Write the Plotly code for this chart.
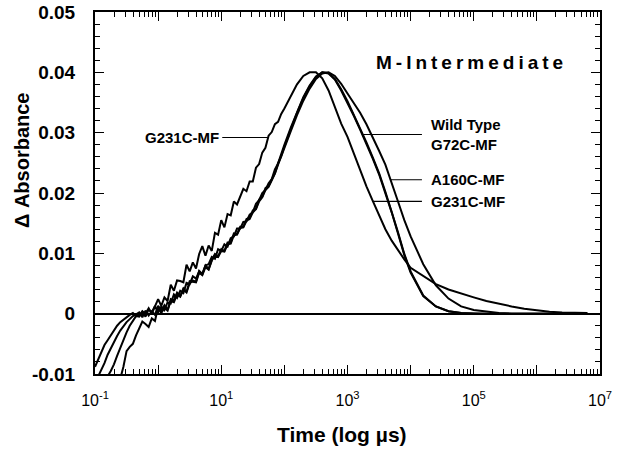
import math
import plotly.graph_objects as go

# time axis (log10 of time in microseconds)
LOG_T = [-1.00, -0.95, -0.90, -0.85, -0.80, -0.75, -0.70, -0.65, -0.60, -0.55,
         -0.50, -0.45, -0.40, -0.35, -0.30, -0.25, -0.20, -0.15, -0.10, -0.05,
         0.00, 0.05, 0.10, 0.15, 0.20, 0.25, 0.30, 0.35, 0.40, 0.45,
         0.50, 0.55, 0.60, 0.65, 0.70, 0.75, 0.80, 0.85, 0.90, 0.95,
         1.00, 1.05, 1.10, 1.15, 1.20, 1.25, 1.30, 1.35, 1.40, 1.45,
         1.50, 1.55, 1.60, 1.65, 1.70, 1.75, 1.80, 1.85, 1.90, 1.95,
         2.00, 2.1, 2.2, 2.3, 2.4, 2.5, 2.6, 2.7, 2.8, 2.9,
         3.0, 3.1, 3.2, 3.3, 3.4, 3.5, 3.6, 3.7, 3.8, 3.9,
         4.0, 4.2, 4.4, 4.6, 4.8, 5.0, 5.2, 5.4, 5.6, 5.8,
         6.0, 6.2, 6.4, 6.6, 6.8]
TIME_US = [10 ** e for e in LOG_T]

WILD_TYPE = [-0.0115, -0.0104, -0.0094, -0.0082, -0.0068, -0.0057, -0.0046, -0.0037, -0.0028, -0.0020,
             -0.0014, -0.0009, -0.0004, -0.0001, 0.0002, -0.0006, 0.0005, -0.0003, 0.0004, -0.0002,
             0.0013, 0.0005, 0.0014, 0.0006, 0.0024, 0.0022, 0.0035, 0.0029, 0.0042, 0.0036,
             0.0054, 0.0055, 0.0053, 0.0071, 0.0066, 0.0080, 0.0074, 0.0089, 0.0099, 0.0095,
             0.0107, 0.0104, 0.0118, 0.0118, 0.0133, 0.0132, 0.0144, 0.0144, 0.0157, 0.0159,
             0.0171, 0.0174, 0.0189, 0.0194, 0.0208, 0.0212, 0.0224, 0.0233, 0.0249, 0.0261,
             0.0277, 0.0305, 0.0333, 0.0357, 0.0377, 0.0392, 0.0400, 0.0398, 0.0388, 0.0370,
             0.0350, 0.0328, 0.0305, 0.0282, 0.0257, 0.0231, 0.0200, 0.0168, 0.0133, 0.0097,
             0.0068, 0.0029, 0.0012, 0.0004, 0.0001, 0.0000, 0.0000, 0.0000, 0.0000, 0.0000,
             0.0000, 0.0000, 0.0000, 0.0000, 0.0000]

G72C_MF = [-0.0150, -0.0138, -0.0126, -0.0114, -0.0104, -0.0095, -0.0084, -0.0070, -0.0056, -0.0043,
           -0.0031, -0.0020, -0.0011, -0.0004, -0.0005, 0.0003, -0.0005, 0.0007, 0.0002, 0.0013,
           0.0002, 0.0012, 0.0006, 0.0019, 0.0017, 0.0032, 0.0026, 0.0038, 0.0034, 0.0051,
           0.0049, 0.0062, 0.0058, 0.0070, 0.0065, 0.0080, 0.0082, 0.0094, 0.0091, 0.0107,
           0.0104, 0.0115, 0.0111, 0.0125, 0.0128, 0.0141, 0.0141, 0.0152, 0.0153, 0.0164,
           0.0168, 0.0182, 0.0188, 0.0200, 0.0205, 0.0216, 0.0223, 0.0239, 0.0249, 0.0265,
           0.0280, 0.0308, 0.0335, 0.0359, 0.0378, 0.0393, 0.0400, 0.0399, 0.0389, 0.0372,
           0.0352, 0.0330, 0.0307, 0.0284, 0.0259, 0.0233, 0.0202, 0.0170, 0.0135, 0.0099,
           0.0070, 0.0030, 0.0012, 0.0004, 0.0001, 0.0000, 0.0000, 0.0000, 0.0000, 0.0000,
           0.0000, 0.0000, 0.0000, 0.0000, 0.0000]

A160C_MF = [-0.0210, -0.0200, -0.0190, -0.0178, -0.0165, -0.0150, -0.0135, -0.0120, -0.0108, -0.0088,
            -0.0062, -0.0055, -0.0050, -0.0036, -0.0024, -0.0013, -0.0017, -0.0022, -0.0008, -0.0012,
            0.0011, 0.0001, 0.0010, 0.0005, 0.0021, 0.0019, 0.0032, 0.0028, 0.0040, 0.0035,
            0.0051, 0.0053, 0.0052, 0.0068, 0.0064, 0.0077, 0.0073, 0.0088, 0.0096, 0.0094,
            0.0104, 0.0103, 0.0115, 0.0116, 0.0130, 0.0131, 0.0142, 0.0143, 0.0154, 0.0157,
            0.0168, 0.0173, 0.0186, 0.0193, 0.0205, 0.0210, 0.0221, 0.0232, 0.0247, 0.0260,
            0.0275, 0.0302, 0.0329, 0.0353, 0.0373, 0.0389, 0.0398, 0.0400, 0.0394, 0.0381,
            0.0365, 0.0350, 0.0333, 0.0314, 0.0293, 0.0270, 0.0247, 0.0218, 0.0186, 0.0155,
            0.0128, 0.0082, 0.0047, 0.0025, 0.0012, 0.0006, 0.0003, 0.0001, 0.0000, 0.0000,
            0.0000, 0.0000, 0.0000, 0.0000, 0.0000]

G231C_MF = [-0.0088, -0.0075, -0.0063, -0.0052, -0.0044, -0.0036, -0.0027, -0.0020, -0.0014, -0.0010,
            -0.0005, -0.0002, 0.0001, -0.0004, -0.0003, 0.0004, 0.0000, 0.0009, 0.0000, 0.0011,
            0.0024, 0.0013, 0.0027, 0.0021, 0.0048, 0.0038, 0.0055, 0.0054, 0.0052, 0.0081,
            0.0070, 0.0085, 0.0075, 0.0099, 0.0112, 0.0096, 0.0113, 0.0104, 0.0134, 0.0131,
            0.0155, 0.0143, 0.0165, 0.0163, 0.0186, 0.0181, 0.0195, 0.0207, 0.0203, 0.0219,
            0.0219, 0.0242, 0.0248, 0.0267, 0.0275, 0.0295, 0.0301, 0.0314, 0.0318, 0.0331,
            0.0340, 0.0360, 0.0380, 0.0394, 0.0400, 0.0400, 0.0390, 0.0370, 0.0343, 0.0315,
            0.0293, 0.0265, 0.0237, 0.0211, 0.0187, 0.0163, 0.0140, 0.0121, 0.0105, 0.0090,
            0.0076, 0.0062, 0.0049, 0.0040, 0.0033, 0.0027, 0.0021, 0.0016, 0.0012, 0.0008,
            0.0005, 0.0003, 0.0002, 0.0001, 0.0001]

SERIES = {"Wild Type": WILD_TYPE, "G72C-MF": G72C_MF, "A160C-MF": A160C_MF, "G231C-MF": G231C_MF}

# tick labels
X_TICKVALS = [0.1, 1, 10, 100, 1e3, 1e4, 1e5, 1e6, 1e7]
X_TICKTEXT = ["10<sup>-1</sup>", "", "10<sup>1</sup>", "", "10<sup>3</sup>", "",
              "10<sup>5</sup>", "", "10<sup>7</sup>"]
Y_TICKVALS = [-0.01, 0, 0.01, 0.02, 0.03, 0.04, 0.05]
Y_TICKTEXT = ["-0.01", "0", "0.01", "0.02", "0.03", "0.04", "0.05"]

# label anchor points on the curves (time in us, absorbance)
RIGHT_LABELS = [
    ("Wild Type<br>G72C-MF", 1780, 0.0297),
    ("A160C-MF", 4700, 0.0222),
    ("G231C-MF", 2500, 0.0186),
]
LEFT_LABEL = ("G231C-MF", 55, 0.0292)
TITLE_TEXT = "M-Intermediate"
X_TITLE = "Time (log µs)"
Y_TITLE = "Δ Absorbance"

FONT = "Liberation Sans, Arial, Helvetica, sans-serif"
TEXT_X_LOG = 4.29   # left edge column of the right-hand labels (log10 us)
LEFT_TEXT_X_LOG = 1.0

fig = go.Figure()
for name, vals in SERIES.items():
    fig.add_trace(go.Scatter(x=TIME_US, y=vals, mode="lines", name=name,
                             line=dict(color="black", width=2), showlegend=False))

lab_font = dict(family=FONT, size=15, color="black", weight="bold")
for text, t, v in RIGHT_LABELS:
    fig.add_annotation(x=math.log10(t), y=v, xref="x", yref="y",
                       axref="x", ayref="y", ax=TEXT_X_LOG, ay=v,
                       text=text, align="left", showarrow=True, arrowhead=0,
                       arrowwidth=1.2, arrowcolor="black", standoff=0, startstandoff=7,
                       xanchor="left", yanchor="middle", font=lab_font)
fig.add_annotation(x=math.log10(LEFT_LABEL[1]), y=LEFT_LABEL[2], xref="x", yref="y",
                   axref="x", ayref="y", ax=LEFT_TEXT_X_LOG, ay=LEFT_LABEL[2],
                   text=LEFT_LABEL[0], showarrow=True, arrowhead=0,
                   arrowwidth=1.2, arrowcolor="black", standoff=0, startstandoff=1,
                   xanchor="right", yanchor="middle", font=lab_font)
fig.add_annotation(x=0.7465, y=0.86, xref="paper", yref="paper",
                   text='<span style="letter-spacing:4px">' + TITLE_TEXT + '</span>',
                   showarrow=False, xanchor="center", yanchor="middle",
                   font=dict(family=FONT, size=19, color="black", weight="bold"))
fig.add_annotation(x=0.489, y=-0.1685, xref="paper", yref="paper", text=X_TITLE,
                   showarrow=False, xanchor="center", yanchor="middle",
                   font=dict(family=FONT, size=21, color="black", weight="bold"))
fig.add_annotation(x=-0.1446, y=0.591, xref="paper", yref="paper", text=Y_TITLE,
                   textangle=-90, showarrow=False, xanchor="center", yanchor="middle",
                   font=dict(family=FONT, size=20, color="black", weight="bold"))

axis_common = dict(showline=True, linecolor="black", linewidth=2, mirror="ticks",
                   ticks="inside", tickcolor="black", tickwidth=1.2, showgrid=False,
                   automargin=False, ticklabeloverflow="allow")

fig.update_xaxes(type="log", range=[-1, 7], tickvals=X_TICKVALS, ticktext=X_TICKTEXT,
                 ticklen=9, ticklabelstandoff=11,
                 minor=dict(ticks="inside", ticklen=5, dtick="D1", tickcolor="black", tickwidth=1),
                 tickfont=dict(family=FONT, size=16, color="black"),
                 **axis_common)
fig.update_yaxes(range=[-0.01, 0.05], tickvals=Y_TICKVALS, ticktext=Y_TICKTEXT,
                 ticklen=9, ticklabelstandoff=14,
                 minor=dict(ticks="inside", ticklen=5, dtick=0.002, tickcolor="black", tickwidth=1),
                 zeroline=True, zerolinecolor="black", zerolinewidth=1.5,
                 tickfont=dict(family=FONT, size=19, color="black", weight="bold"),
                 **axis_common)

fig.update_layout(width=622, height=452, margin=dict(l=95, r=22, t=12, b=78),
                  plot_bgcolor="white", paper_bgcolor="white", showlegend=False,
                  hovermode=False)

# remove the page's default 8px body margin so the figure fills the window exactly
fig.write_html("out.html", config={"displayModeBar": False},
               post_script="document.body.style.margin='0px';")
